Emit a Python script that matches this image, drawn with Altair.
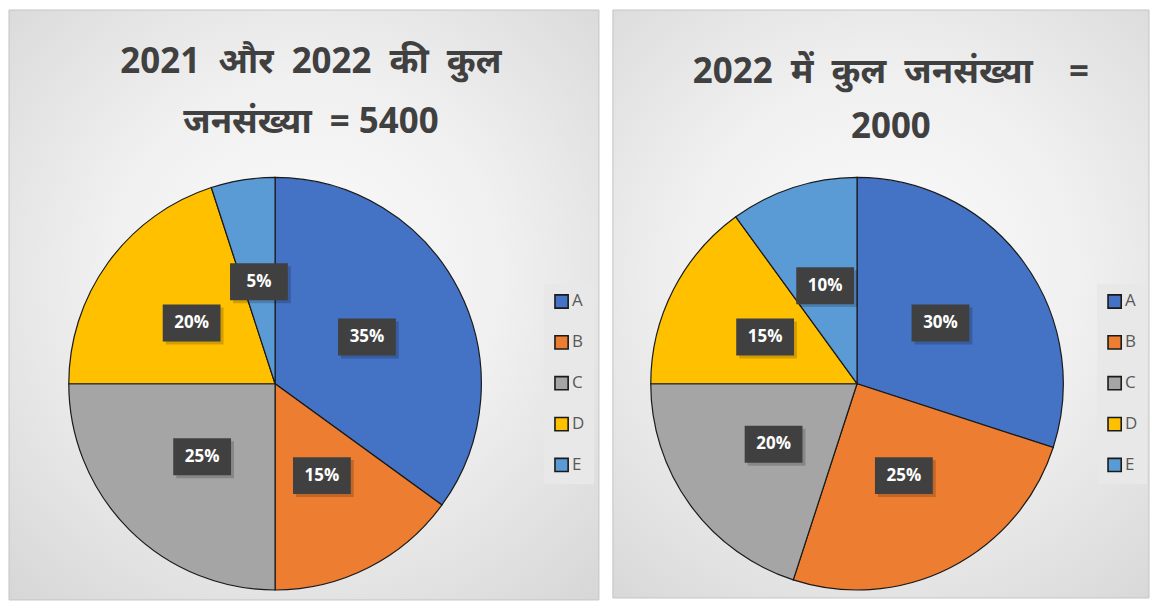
import altair as alt
import pandas as pd

categories = ["A", "B", "C", "D", "E"]
share_2021_2022 = [35, 15, 25, 20, 5]
share_2022 = [30, 25, 20, 15, 10]
colors = ["#4472C4", "#ED7D31", "#A5A5A5", "#FFC000", "#5B9BD5"]
NB = "\u00a0"
title_left = [f"2021{NB}{NB}और{NB}{NB}2022{NB}{NB}की{NB}{NB}कुल", f"जनसंख्या{NB}{NB}= 5400"]
title_right = [f"2022{NB}{NB}में{NB}{NB}कुल{NB}{NB}जनसंख्या{NB}{NB}{NB}{NB}=", "2000"]

TITLE_FONT = "Noto Sans, Noto Sans Devanagari, Lohit Devanagari, sans-serif"
LABEL_FONT = "Open Sans"

gradient = alt.RadialGradient(
    gradient="radial",
    stops=[alt.GradientStop(color="#fbfbfb", offset=0),
           alt.GradientStop(color="#f0f0f0", offset=0.45),
           alt.GradientStop(color="#d6d6d6", offset=1)],
    x1=0.5, y1=0.45, x2=0.5, y2=0.45, r1=0, r2=0.75,
)


def panel(values, title_lines, w, h, cx, cy, r, tx, ty, lh, legx, legy):
    df = pd.DataFrame({"cat": categories, "val": values, "ord": list(range(len(categories)))})
    base = alt.Chart(df)

    bg = alt.Chart(pd.DataFrame({"k": [0]})).mark_rect(
        color=gradient, stroke="#c4c4c4", strokeWidth=1
    ).encode(x=alt.value(0), x2=alt.value(w), y=alt.value(0), y2=alt.value(h))

    title = alt.Chart(pd.DataFrame({"k": [0]})).mark_text(
        text=title_lines, font=TITLE_FONT, fontSize=35, fontWeight="bold",
        color="#404040", align="center", baseline="middle", lineHeight=lh,
    ).encode(x=alt.value(tx), y=alt.value(ty))

    pie = base.mark_arc(radius=r, stroke="#1a1a1a", strokeWidth=1.2).encode(
        theta=alt.Theta("val:Q", stack=True),
        color=alt.Color(
            "cat:N",
            scale=alt.Scale(domain=categories, range=colors),
            legend=alt.Legend(
                title=None, orient="none", legendX=legx, legendY=legy,
                symbolType="square", symbolSize=175,
                symbolStrokeColor="#1a1a1a", symbolStrokeWidth=1.6,
                labelFontSize=17, labelColor="#595959", labelFont=LABEL_FONT,
                fillColor="#e8e8e8", padding=9, rowPadding=20, labelOffset=2,
            ),
        ),
        order=alt.Order("ord:Q"),
        x=alt.value(cx), y=alt.value(cy),
    )

    lr = r * 0.5
    lab = base.transform_joinaggregate(tot="sum(val)").transform_window(
        cum="sum(val)", sort=[alt.SortField("ord")], frame=[None, 0]
    ).transform_calculate(
        ang="(datum.cum - datum.val/2) / datum.tot * 2 * PI",
        px=f"{cx} + {lr} * sin(datum.ang)",
        py=f"{cy} - {lr} * cos(datum.ang)",
        lab="datum.val + '%'",
    )
    shadows = lab.mark_point(
        shape="M-1,-0.64L1,-0.64L1,0.64L-1,0.64Z", filled=True,
        size=3364, color="#000000", opacity=0.18,
    ).encode(x=alt.X("px:Q", scale=None, axis=None), y=alt.Y("py:Q", scale=None, axis=None),
             xOffset=alt.value(3), yOffset=alt.value(3))
    boxes = lab.mark_point(
        shape="M-1,-0.64L1,-0.64L1,0.64L-1,0.64Z", filled=True,
        size=3364, color="#404040", opacity=1,
    ).encode(x=alt.X("px:Q", scale=None, axis=None), y=alt.Y("py:Q", scale=None, axis=None))
    texts = lab.mark_text(
        font=LABEL_FONT, fontSize=17, fontWeight="bold", color="white",
        align="center", baseline="middle",
    ).encode(x=alt.X("px:Q", scale=None, axis=None), y=alt.Y("py:Q", scale=None, axis=None),
             text="lab:N")

    return alt.layer(bg, title, pie, shadows, boxes, texts).properties(width=w, height=h)


left = panel(share_2021_2022, title_left, 592, 592, 267, 375, 207, 303, 52, 60, 537, 275)
right = panel(share_2022, title_right, 538, 590, 245, 375, 207, 279, 62, 55, 486, 275)

chart = alt.hconcat(left, right, spacing=12).resolve_legend(color="independent").resolve_scale(
    color="independent"
).configure_view(stroke=None).properties(padding=0, background="white")

chart.save("out.html", embed_options={"renderer": "svg", "actions": False})
